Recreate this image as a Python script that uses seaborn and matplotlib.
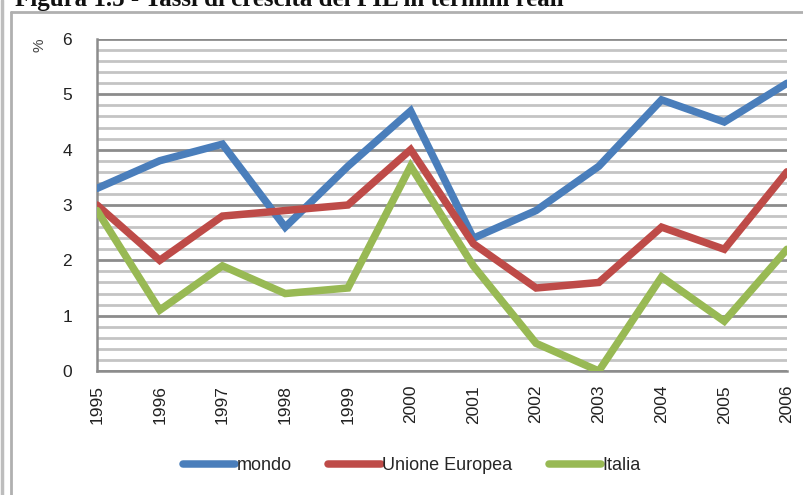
import numpy as np
import pandas as pd
import matplotlib
matplotlib.use("Agg")
import matplotlib.pyplot as plt
import seaborn as sns
from matplotlib.lines import Line2D
from matplotlib.ticker import MultipleLocator

years = ["1995", "1996", "1997", "1998", "1999", "2000", "2001", "2002", "2003", "2004", "2005", "2006"]
mondo = [3.3, 3.8, 4.1, 2.6, 3.7, 4.7, 2.4, 2.9, 3.7, 4.9, 4.5, 5.2]
unione_europea = [3.0, 2.0, 2.8, 2.9, 3.0, 4.0, 2.3, 1.5, 1.6, 2.6, 2.2, 3.6]
italia = [2.9, 1.1, 1.9, 1.4, 1.5, 3.7, 1.9, 0.5, 0.0, 1.7, 0.9, 2.2]
series_names = ["mondo", "Unione Europea", "Italia"]
colors = ["#4A7EBB", "#BE4B48", "#98B954"]
title = "Figura 1.5 - Tassi di crescita del PIL in termini reali"
ylabel = "%"

df = pd.DataFrame({"anno": years, series_names[0]: mondo,
                   series_names[1]: unione_europea, series_names[2]: italia})
long = df.melt(id_vars="anno", var_name="serie", value_name="valore")
long["x"] = long["anno"].astype(int)

sns.set_theme(style="white")
plt.rcParams["font.family"] = ["Liberation Sans", "DejaVu Sans"]

fig = plt.figure(figsize=(8.04, 4.95), dpi=100)
ax = fig.add_axes([97 / 804, 1 - 371 / 495, 690 / 804, 332 / 495])

sns.lineplot(data=long, x="x", y="valore", hue="serie", hue_order=series_names,
             palette=colors, linewidth=5.4, ax=ax, legend=False,
             solid_capstyle="round", solid_joinstyle="miter", zorder=3)

ax.set_xlim(1995, 2006)
ax.set_ylim(0, 6)
ax.set_xticks([int(y) for y in years])
ax.set_xticklabels(years, rotation=90, fontsize=12.5, color="#222222")
ax.yaxis.set_major_locator(MultipleLocator(1))
ax.yaxis.set_minor_locator(MultipleLocator(0.2))
ax.tick_params(axis="y", which="major", labelsize=12.5, colors="#222222",
               length=6, width=1.5, pad=12)
ax.tick_params(axis="y", which="minor", length=0)
ax.tick_params(axis="x", which="major", length=6, width=1.5, color="#888888", pad=4)
ax.tick_params(axis="y", which="major", color="#888888")
ax.grid(True, which="major", axis="y", color="#8c8c8c", linewidth=2.0, zorder=1)
ax.grid(True, which="minor", axis="y", color="#c4c4c4", linewidth=2.0, zorder=1)
ax.grid(False, axis="x")
ax.set_axisbelow(True)
for s in ["top", "right"]:
    ax.spines[s].set_visible(False)
for s in ["left", "bottom"]:
    ax.spines[s].set_color("#8c8c8c")
    ax.spines[s].set_linewidth(1.8)
ax.set_xlabel("")
ax.set_ylabel("")
fig.text(40 / 804, 1 - 45 / 495, ylabel, rotation=90, ha="center", va="center",
         fontsize=11, color="#444444")

handles = [Line2D([0], [0], color=c, linewidth=5.4, solid_capstyle="round") for c in colors]
fig.legend(handles, series_names, loc="center", bbox_to_anchor=(412 / 804, 1 - 466 / 495),
           ncol=3, frameon=False, fontsize=13, handlelength=2.9, handletextpad=0.1,
           columnspacing=2.0)

# scanned-page frame
fig.add_artist(Line2D([2 / 804, 2 / 804], [0, 1], transform=fig.transFigure,
                      color="#bdbdbd", linewidth=2.5))
fig.add_artist(Line2D([11.5 / 804, 11.5 / 804], [0, 1 - 12 / 495], transform=fig.transFigure,
                      color="#b0b0b0", linewidth=2.0))
fig.add_artist(Line2D([11.5 / 804, 1], [1 - 12 / 495, 1 - 12 / 495], transform=fig.transFigure,
                      color="#b0b0b0", linewidth=2.0))
fig.text(15 / 804, 1 - 6 / 495, title, ha="left", va="baseline", fontsize=18,
         fontweight="bold", family=["Liberation Serif", "DejaVu Serif"], color="#111111")

fig.savefig("out.png", dpi=100)
